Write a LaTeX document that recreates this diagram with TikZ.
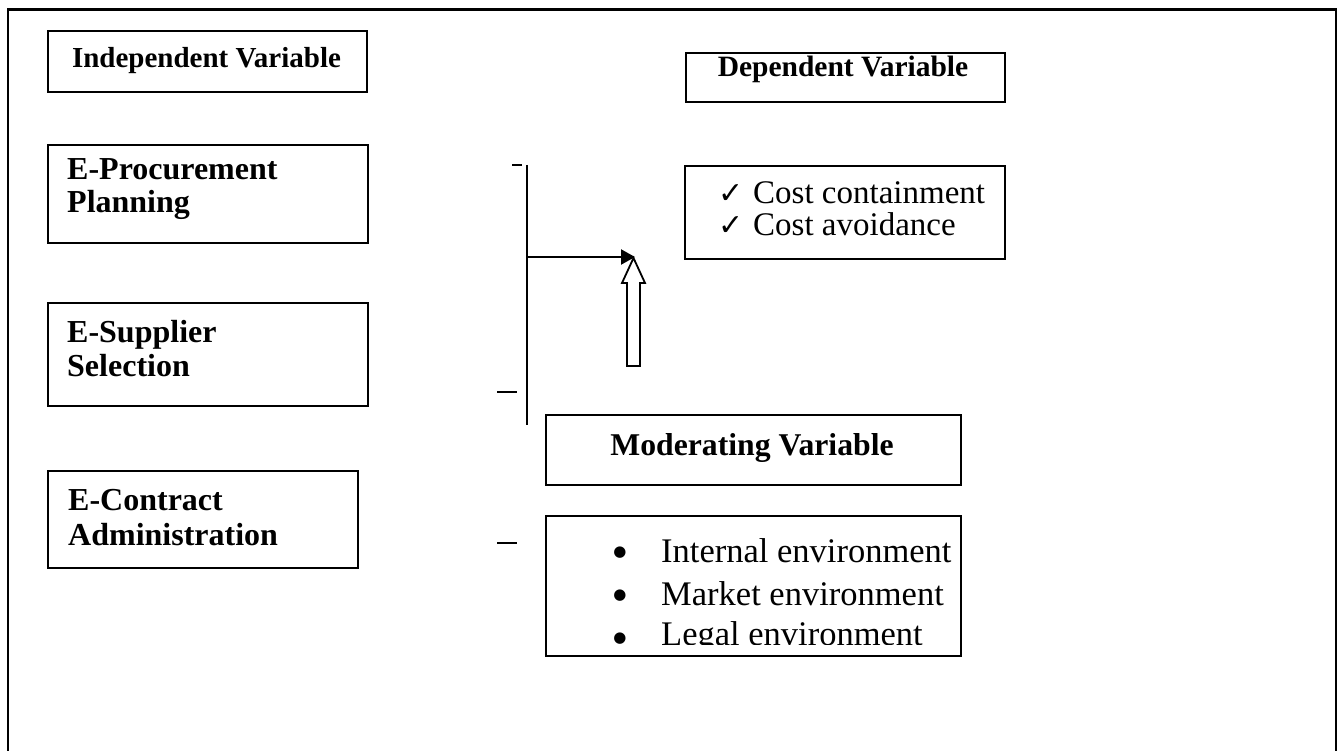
\documentclass[tikz,border=0pt]{standalone}
\usepackage{fontspec}
\setmainfont{Liberation Serif}
\newfontfamily\symfont{DejaVu Sans}
\usetikzlibrary{arrows.meta}
\begin{document}
\begin{tikzpicture}[x=1pt,y=-1pt,
  box/.style={draw, line width=2.2pt, inner sep=0pt, anchor=north west},
  lbl/.style={inner sep=0pt, anchor=base west},
  hdr/.style={inner sep=0pt, anchor=base},
  big/.style={lbl, font=\fontsize{32}{32}\selectfont\bfseries},
  item/.style={lbl, font=\fontsize{34.5}{36}\selectfont},
  dot/.style={hdr, font=\fontsize{15}{16}\symfont},
  chk/.style={lbl, font=\fontsize{30}{32}\symfont},
  conn/.style={line width=2.2pt},
  tick/.style={line width=2pt}]
\useasboundingbox (0,0) rectangle (1340,751);
% outer frame
\draw[line width=2.2pt] (8,751) -- (8,9.5) -- (1336,9.5) -- (1336,751);
% boxes
\node[box, minimum width=319, minimum height=61] (iv) at (47,30) {};
\node[box, minimum width=320, minimum height=98] (pp) at (47,144) {};
\node[box, minimum width=320, minimum height=103] (ss) at (47,302) {};
\node[box, minimum width=310, minimum height=97] (ca) at (47,470) {};
\node[box, minimum width=319, minimum height=49] (dv) at (685,52) {};
\node[box, minimum width=320, minimum height=93] (dep) at (684,165) {};
\node[box, minimum width=415, minimum height=70] (mv) at (545,414) {};
\node[box, minimum width=415, minimum height=140] (env) at (545,515) {};
% texts
\node[hdr, font=\fontsize{29}{30}\selectfont\bfseries] (tiv) at (206.5,68) {Independent Variable};
\node[big] (tpp1) at (67,180) {E-Procurement};
\node[big] (tpp2) at (67,213) {Planning};
\node[big] (tss1) at (67,342) {E-Supplier};
\node[big] (tss2) at (67,376) {Selection};
\node[big] (tca1) at (68,510) {E-Contract};
\node[big] (tca2) at (68,545) {Administration};
\node[hdr, font=\fontsize{29.5}{30}\selectfont\bfseries] (tdv) at (843,77) {Dependent Variable};
\node[hdr, font=\fontsize{31.7}{32}\selectfont\bfseries] (tmv) at (752,455) {Moderating Variable};
% cost items
\node[chk] (ck1) at (718,204) {✓};
\node[chk] (ck2) at (718,236) {✓};
\node[lbl, font=\fontsize{33}{34}\selectfont] (c1) at (753,204) {Cost containment};
\node[lbl, font=\fontsize{33}{34}\selectfont] (c2) at (753,236) {Cost avoidance};
% environment items
\node[dot] (b1) at (620,556) {●};
\node[dot] (b2) at (620,599) {●};
\node[dot] (b3) at (620,642) {●};
\node[item] (e1) at (661,562) {Internal environment};
\node[item] (e2) at (661,605) {Market environment};
\begin{scope}
\clip (546,620) rectangle (959,644);
\node[item] (e3) at (661,645) {Legal environment};
\end{scope}
% connectors
\coordinate (vt) at (527,165);
\coordinate (vb) at (527,425);
\coordinate (vm) at (527,257);
\coordinate (tip) at (635,257);
\draw[conn] (vt) -- (vb);
\draw[conn, -{Triangle[length=14pt,width=15pt]}] (vm) -- (tip);
% hollow block arrow
\draw[line width=1.8pt, fill=white] (627,366) -- (627,283) -- (622,283) -- (633.5,258) -- (645,283) -- (640,283) -- (640,366) -- cycle;
% small dashes
\draw[tick] (512,165) -- (522,165);
\draw[tick] (497,392) -- (517,392);
\draw[tick] (497,543) -- (517,543);
\end{tikzpicture}
\end{document}
